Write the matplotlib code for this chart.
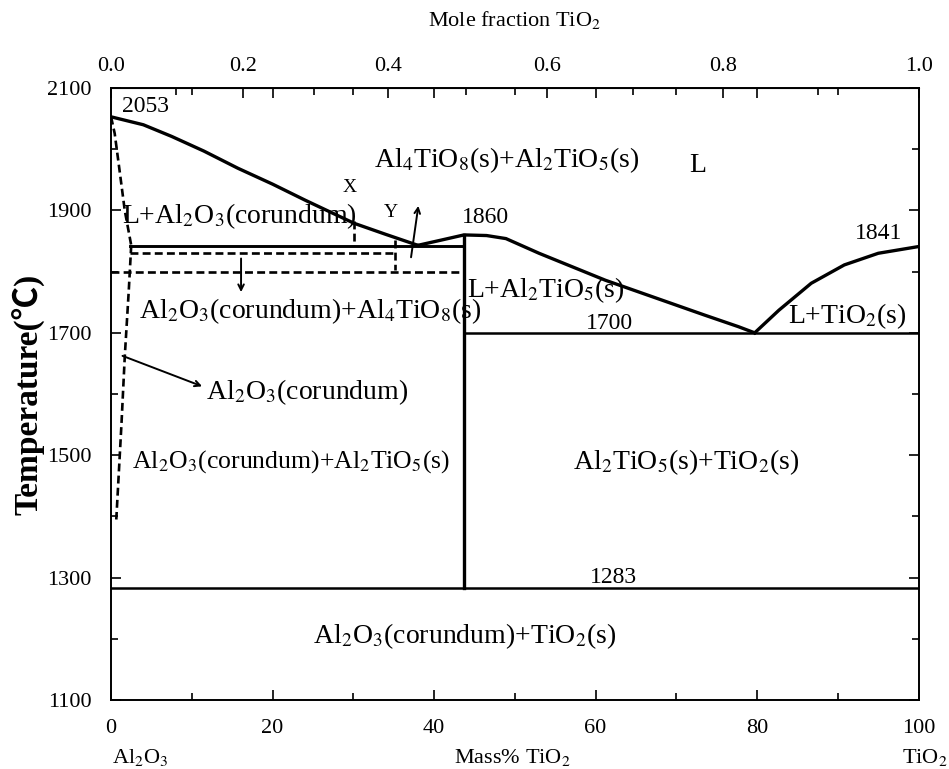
import numpy as np
import matplotlib.pyplot as plt
from matplotlib.ticker import MultipleLocator, FixedLocator

plt.rcParams['font.family'] = ['Liberation Serif', 'Noto Sans CJK SC']
plt.rcParams['mathtext.fontset'] = 'stix'

# masses molaires (axe du haut en fraction molaire)
M_AL2O3 = 101.96
M_TIO2 = 79.87

# liquidus : masse % TiO2 / temperature (C)
liq_al2o3_w = [0, 4.0, 7.5, 11.5, 15.7, 20.0, 24.0, 30.1, 34.0, 38.0]
liq_al2o3_T = [2053, 2040, 2021, 1997, 1969, 1943, 1917, 1879, 1861, 1843]
liq_at_w = [38.0, 40.7, 43.7, 46.5, 48.9, 53.0, 57.1, 61.2, 65.3, 69.4, 73.5, 77.7, 79.7]
liq_at_T = [1843, 1851, 1860, 1859, 1854, 1830, 1808, 1786, 1767, 1748, 1729, 1710, 1700]
liq_tio2_w = [79.7, 82.7, 86.7, 90.8, 95.0, 100]
liq_tio2_T = [1700, 1737, 1781, 1811, 1830, 1841]

# solidus / solvus du corindon (pointilles)
sol_w = [0, 0.45, 1.0, 1.7, 2.5]
sol_T = [2053, 2026, 1971, 1900, 1843]
solvus_w = [2.5, 2.2, 1.7, 1.3, 0.65]
solvus_T = [1843, 1770, 1661, 1553, 1395]

# invariants
w_cor = 2.3        # limite du corindon
w_at = 43.7        # Al2TiO5
T_at = 1860
T_eut1 = 1842
T_dash1 = 1830
T_dash2 = 1800
T_eut2 = 1700
T_eutectoid = 1283
w_x = 30.1
T_x = [1882, 1842]
w_y = 35.1
T_y = [1852, 1803]

# graduations
y_major = [1100, 1300, 1500, 1700, 1900, 2100]
y_minor = [1200, 1400, 1600, 1800, 2000]
mole_major = [0.0, 0.2, 0.4, 0.6, 0.8, 1.0]
mole_minor = [0.1, 0.3, 0.5, 0.7, 0.9]


def w2x(w):
    w = np.asarray(w, dtype=float)
    with np.errstate(divide='ignore', invalid='ignore'):
        nt = w / M_TIO2
        na = (100.0 - w) / M_AL2O3
        return nt / (nt + na)


def x2w(x):
    x = np.asarray(x, dtype=float)
    with np.errstate(divide='ignore', invalid='ignore'):
        return 100.0 * x * M_TIO2 / (x * M_TIO2 + (1.0 - x) * M_AL2O3)


fig = plt.figure(figsize=(9.49, 7.69), dpi=100)
ax = fig.add_axes([0.117, 0.0897, 0.851, 0.7958])

lw = 2.4
dash = dict(color='k', lw=1.9, ls=(0, (3, 1.6)))

ax.plot(liq_al2o3_w, liq_al2o3_T, 'k-', lw=lw)
ax.plot(liq_at_w, liq_at_T, 'k-', lw=lw)
ax.plot(liq_tio2_w, liq_tio2_T, 'k-', lw=lw)

ax.plot(sol_w, sol_T, **dash)
ax.plot(solvus_w, solvus_T, **dash)

ax.plot([w_cor, w_at], [T_eut1, T_eut1], 'k-', lw=2.1)
ax.plot([w_cor, w_y], [T_dash1, T_dash1], **dash)
ax.plot([0, w_at], [T_dash2, T_dash2], **dash)
ax.plot([w_x, w_x], T_x, **dash)
ax.plot([w_y, w_y], T_y, **dash)

ax.plot([w_at, w_at], [T_at, T_eutectoid], 'k-', lw=lw)
ax.plot([w_at, 100], [T_eut2, T_eut2], 'k-', lw=1.8)
ax.plot([0, 100], [T_eutectoid, T_eutectoid], 'k-', lw=1.8)

# fleches
arr = dict(arrowstyle='->', color='k', lw=1.4)
ax.annotate('', xy=(38.1, 1912), xytext=(37.1, 1819), arrowprops=arr)
ax.annotate('', xy=(16.1, 1762), xytext=(16.1, 1826), arrowprops=arr)
ax.annotate('', xy=(11.6, 1611), xytext=(1.1, 1664), arrowprops=arr)

fs = 20
fn = 17
ax.text(1.3, 2070, '2053', fontsize=fn, ha='left', va='center')
ax.text(72.7, 1974, 'L', fontsize=fs, ha='center', va='center')
ax.text(15.9, 1891, 'L+Al$_2$O$_3$(corundum)', fontsize=fs, ha='center', va='center')
ax.text(29.5, 1937, 'X', fontsize=14, ha='center', va='center')
ax.text(34.6, 1896, 'Y', fontsize=14, ha='center', va='center')
ax.text(49.0, 1982, 'Al$_4$TiO$_8$(s)+Al$_2$TiO$_5$(s)', fontsize=fs, ha='center', va='center')
ax.text(46.4, 1888, '1860', fontsize=fn, ha='center', va='center')
ax.text(95.0, 1862, '1841', fontsize=fn, ha='center', va='center')
ax.text(53.8, 1770, 'L+Al$_2$TiO$_5$(s)', fontsize=fs, ha='center', va='center')
ax.text(61.7, 1716, '1700', fontsize=fn, ha='center', va='center')
ax.text(91.2, 1727, 'L+TiO$_2$(s)', fontsize=fs, ha='center', va='center')
ax.text(24.7, 1736, 'Al$_2$O$_3$(corundum)+Al$_4$TiO$_8$(s)', fontsize=fs, ha='center', va='center')
ax.text(24.3, 1603, 'Al$_2$O$_3$(corundum)', fontsize=fs, ha='center', va='center')
ax.text(22.3, 1489, 'Al$_2$O$_3$(corundum)+Al$_2$TiO$_5$(s)', fontsize=18.5, ha='center', va='center')
ax.text(71.2, 1489, 'Al$_2$TiO$_5$(s)+TiO$_2$(s)', fontsize=fs, ha='center', va='center')
ax.text(62.2, 1301, '1283', fontsize=fn, ha='center', va='center')
ax.text(43.8, 1205, 'Al$_2$O$_3$(corundum)+TiO$_2$(s)', fontsize=fs, ha='center', va='center')

ax.set_xlim(0, 100)
ax.set_ylim(1100, 2100)
ax.xaxis.set_major_locator(MultipleLocator(20))
ax.xaxis.set_minor_locator(MultipleLocator(10))
ax.yaxis.set_major_locator(FixedLocator(y_major))
ax.yaxis.set_minor_locator(FixedLocator(y_minor))
ax.tick_params(which='both', direction='in', top=True, right=True, labelsize=16)
ax.tick_params(which='major', length=7, width=1.2)
ax.tick_params(which='minor', length=5, width=1.2)
ax.tick_params(axis='x', pad=14)
ax.tick_params(axis='y', pad=14)
for s in ax.spines.values():
    s.set_linewidth(1.4)

ax.set_ylabel('Temperature(\u2103)', fontsize=24, fontweight='bold', labelpad=2)

sec = ax.secondary_xaxis('top', functions=(w2x, x2w))
sec.xaxis.set_major_locator(FixedLocator(mole_major))
sec.xaxis.set_minor_locator(FixedLocator(mole_minor))
sec.xaxis.set_major_formatter(lambda v, p: '%.1f' % v)
sec.tick_params(which='both', direction='in', labelsize=16, pad=9)
sec.tick_params(which='major', length=7, width=1.2)
sec.tick_params(which='minor', length=5, width=1.2)
sec.set_xlabel('Mole fraction TiO$_2$', fontsize=16, labelpad=22)

fig.text(140 / 949, 1 - 757 / 769, 'Al$_2$O$_3$', fontsize=16, ha='center', va='center')
fig.text(512 / 949, 1 - 757 / 769, 'Mass% TiO$_2$', fontsize=16, ha='center', va='center')
fig.text(925 / 949, 1 - 757 / 769, 'TiO$_2$', fontsize=16, ha='center', va='center')

fig.savefig('out.png', dpi=100)
